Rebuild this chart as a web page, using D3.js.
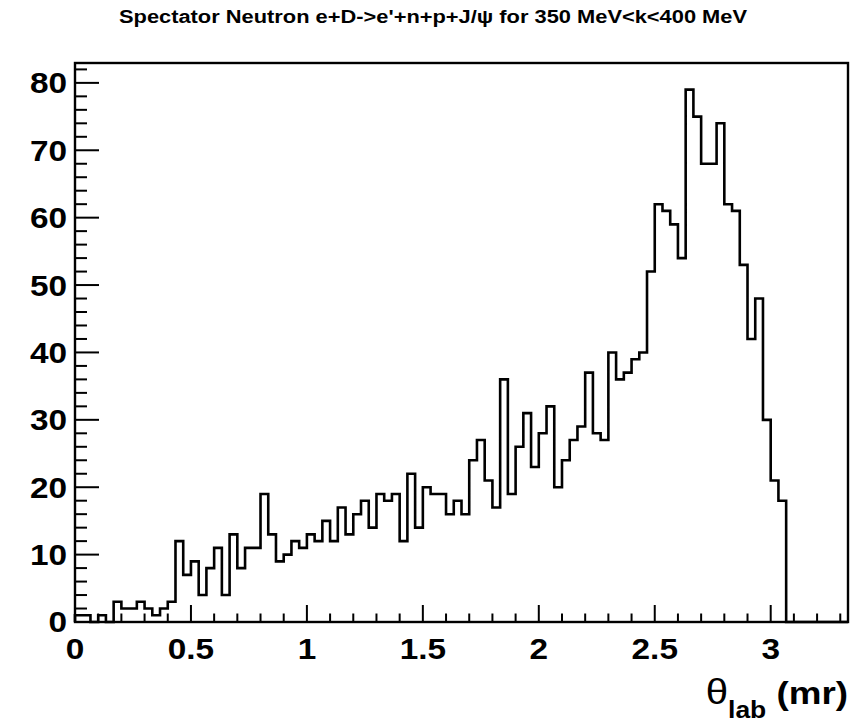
<!DOCTYPE html>
<html>
<head>
<meta charset="utf-8">
<script src="https://cdn.jsdelivr.net/npm/d3@7"></script>
<style>
  html, body { margin: 0; padding: 0; background: #fff; }
  svg { display: block; }
  text { font-family: "Liberation Sans", Arial, Helvetica, sans-serif; font-weight: bold; fill: #000; }
</style>
</head>
<body>
<script>
// Histogram binning: 100 equal bins on [0, 10/3] mr
const binRange = [0, 10 / 3];
const binCount = 100;

// Entries per bin, left to right
const counts = [
  1, 1, 0, 1, 0, 3, 2, 2, 3, 2,
  1, 2, 3, 12, 7, 9, 4, 8, 11, 4,
  13, 8, 11, 11, 19, 13, 9, 10, 12, 11,
  13, 12, 15, 12, 17, 13, 16, 18, 14, 19,
  18, 19, 12, 22, 14, 20, 19, 19, 16, 18,
  16, 24, 27, 21, 17, 36, 19, 26, 31, 23,
  28, 32, 20, 24, 27, 29, 37, 28, 27, 40,
  36, 37, 39, 40, 52, 62, 61, 59, 54, 79,
  75, 68, 68, 74, 62, 61, 53, 42, 48, 30,
  21, 18, 0, 0, 0, 0, 0, 0, 0, 0
];

// Axis tick values
const xMajorTicks = [0, 0.5, 1, 1.5, 2, 2.5, 3];
const yMajorTicks = [0, 10, 20, 30, 40, 50, 60, 70, 80];

const titleText = "Spectator Neutron e+D->e'+n+p+J/\u03c8 for 350 MeV<k<400 MeV";

const W = 863, H = 723;
const frame = { left: 75, right: 848, top: 63, bottom: 622 };
const stretch = 1.15;   // wide lettering used throughout

const svg = d3.select("body").append("svg")
  .attr("width", W).attr("height", H);

svg.append("rect").attr("width", W).attr("height", H).attr("fill", "#fff");

const yMax = d3.max(counts) * 1.05;

const x = d3.scaleLinear().domain(binRange).range([frame.left, frame.right]);
const y = d3.scaleLinear().domain([0, yMax]).range([frame.bottom, frame.top]);

const binWidth = (binRange[1] - binRange[0]) / binCount;

// Step outline of the histogram
const path = d3.path();
path.moveTo(x(binRange[0]), y(0));
counts.forEach((c, i) => {
  path.lineTo(x(binRange[0] + i * binWidth), y(c));
  path.lineTo(x(binRange[0] + (i + 1) * binWidth), y(c));
});
path.lineTo(x(binRange[1]), y(0));

svg.append("path")
  .attr("d", path.toString())
  .attr("fill", "none")
  .attr("stroke", "#000")
  .attr("stroke-width", 2.6)
  .attr("stroke-linejoin", "miter");

// X axis ticks (inside, pointing up): 0.1 minor, 0.5 major
const xMinor = d3.range(0, 34).map(i => +(i * 0.1).toFixed(1)).filter(v => v <= binRange[1]);
const gx = svg.append("g");
gx.selectAll("line.tick").data(xMinor).join("line")
  .attr("x1", d => x(d)).attr("x2", d => x(d))
  .attr("y1", frame.bottom)
  .attr("y2", d => frame.bottom - (xMajorTicks.includes(d) ? 17 : 8.5))
  .attr("stroke", "#000").attr("stroke-width", 2);
gx.selectAll("text").data(xMajorTicks).join("text")
  .attr("transform", d => `translate(${x(d)},659) scale(${stretch},1)`)
  .attr("text-anchor", "middle")
  .attr("font-size", 29)
  .text(d => d3.format("~g")(d));

// Y axis ticks (inside, pointing right): 2 minor, 10 major
const yMinor = d3.range(0, 42).map(i => i * 2).filter(v => v <= yMax);
const gy = svg.append("g");
gy.selectAll("line.tick").data(yMinor).join("line")
  .attr("x1", frame.left)
  .attr("x2", d => frame.left + (yMajorTicks.includes(d) ? 24 : 12))
  .attr("y1", d => y(d)).attr("y2", d => y(d))
  .attr("stroke", "#000").attr("stroke-width", 2);
gy.selectAll("text").data(yMajorTicks).join("text")
  .attr("transform", d => `translate(67,${y(d)}) scale(${stretch},1)`)
  .attr("dy", "0.36em")
  .attr("text-anchor", "end")
  .attr("font-size", 29)
  .text(d => d);

// Frame
svg.append("rect")
  .attr("x", frame.left).attr("y", frame.top)
  .attr("width", frame.right - frame.left)
  .attr("height", frame.bottom - frame.top)
  .attr("fill", "none").attr("stroke", "#000").attr("stroke-width", 2.4);

// Title
svg.append("text")
  .attr("transform", `translate(433,23) scale(${stretch},1)`)
  .attr("text-anchor", "middle")
  .attr("font-size", 19)
  .text(titleText);

// X axis title: theta_lab (mr)
const xt = svg.append("text")
  .attr("transform", `translate(848,704) scale(${stretch},1)`)
  .attr("text-anchor", "end")
  .attr("font-size", 32);
xt.append("tspan").attr("font-weight", "normal").attr("font-size", 35).text("\u03b8");
xt.append("tspan").attr("font-size", 23).attr("dy", 14).text("lab");
xt.append("tspan").attr("dy", -14).text("\u00a0(mr)");
</script>
</body>
</html>
